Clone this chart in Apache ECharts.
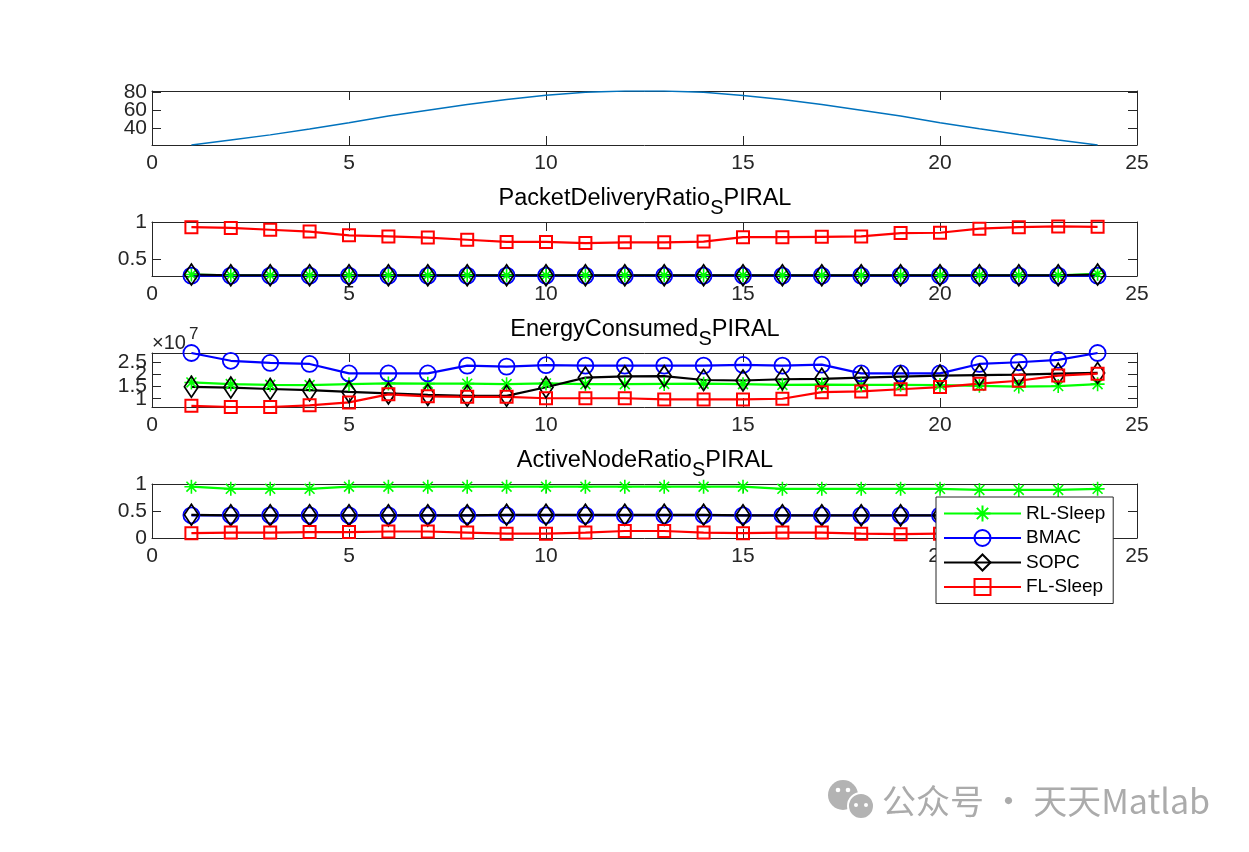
<!DOCTYPE html>
<html>
<head>
<meta charset="utf-8">
<script src="https://cdn.jsdelivr.net/npm/echarts@6/dist/echarts.min.js"></script>
<style>
html,body{margin:0;padding:0;background:#fff;}
#c{width:1249px;height:852px;}
</style>
</head>
<body>
<div id="c"></div>
<script>
// ---------------- data ----------------
var xValues = [1,2,3,4,5,6,7,8,9,10,11,12,13,14,15,16,17,18,19,20,21,22,23,24];
var seriesNames = ['RL-Sleep','BMAC','SOPC','FL-Sleep'];
var xTicks = [0,5,10,15,20,25];

// panel 1
var topCurve = [21.8,27.3,32.9,39.3,46.2,53.5,60.0,66.2,71.6,76.3,79.6,81.0,81.0,79.5,76.1,71.6,66.2,60.0,53.5,46.2,39.6,33.2,27.3,21.8];
var topTicks = [40,60,80];

// panel 2 : PacketDeliveryRatio
var pdrRL   = [0.29,0.28,0.28,0.28,0.28,0.28,0.28,0.28,0.28,0.28,0.28,0.28,0.28,0.28,0.28,0.28,0.28,0.28,0.28,0.28,0.28,0.28,0.28,0.30];
var pdrBMAC = [0.275,0.275,0.275,0.275,0.275,0.275,0.275,0.275,0.275,0.275,0.275,0.275,0.275,0.275,0.275,0.275,0.275,0.275,0.275,0.275,0.275,0.275,0.275,0.275];
var pdrSOPC = [0.29,0.28,0.28,0.28,0.28,0.28,0.28,0.28,0.28,0.28,0.28,0.28,0.28,0.28,0.28,0.28,0.28,0.28,0.28,0.28,0.28,0.28,0.28,0.29];
var pdrFL   = [0.93,0.92,0.895,0.87,0.82,0.805,0.79,0.76,0.73,0.73,0.715,0.725,0.725,0.735,0.795,0.795,0.80,0.805,0.85,0.855,0.91,0.93,0.94,0.935];
var pdrTicks = [0.5,1];

// panel 3 : EnergyConsumed (x 1e7)
var eRL   = [1.67,1.60,1.57,1.56,1.60,1.63,1.62,1.62,1.60,1.63,1.60,1.60,1.61,1.62,1.60,1.57,1.58,1.57,1.57,1.56,1.53,1.50,1.52,1.60];
var eBMAC = [2.88,2.56,2.47,2.43,2.04,2.04,2.04,2.36,2.32,2.38,2.36,2.36,2.36,2.36,2.39,2.36,2.40,2.04,2.04,2.04,2.43,2.50,2.60,2.88];
var eSOPC = [1.49,1.46,1.40,1.35,1.28,1.22,1.16,1.12,1.12,1.47,1.87,1.92,1.93,1.77,1.75,1.80,1.82,1.87,1.91,1.95,1.97,1.99,2.03,2.06];
var eFL   = [0.71,0.66,0.66,0.73,0.85,1.18,1.10,1.08,1.08,1.02,1.02,1.02,0.97,0.97,0.97,1.00,1.27,1.30,1.39,1.48,1.62,1.74,1.95,2.03];
var eTicks = [1,1.5,2,2.5];

// panel 4 : ActiveNodeRatio
var aRL   = [0.95,0.91,0.91,0.91,0.95,0.95,0.95,0.95,0.95,0.95,0.95,0.95,0.95,0.95,0.95,0.91,0.91,0.91,0.91,0.91,0.89,0.89,0.89,0.91];
var aBMAC = [0.42,0.42,0.42,0.42,0.42,0.42,0.42,0.42,0.42,0.42,0.42,0.42,0.42,0.42,0.42,0.42,0.42,0.42,0.42,0.42,0.42,0.42,0.42,0.42];
var aSOPC = [0.43,0.42,0.42,0.42,0.42,0.42,0.42,0.42,0.43,0.43,0.43,0.43,0.43,0.43,0.42,0.42,0.42,0.42,0.42,0.42,0.42,0.42,0.42,0.42];
var aFL   = [0.09,0.10,0.10,0.11,0.11,0.12,0.12,0.10,0.08,0.08,0.10,0.13,0.13,0.10,0.09,0.10,0.10,0.08,0.07,0.08,0.09,0.09,0.09,0.09];
var aTicks = [0,0.5,1];

// ---------------- layout ----------------
var FONT = "'Liberation Sans', Arial, Helvetica, sans-serif";
var AX = '#262626';
var gridTops = [91, 222, 353, 484];
var gridH = 54;
var yRanges = [[21.8,81],[0.27,1],[0.66,2.88],[0,1]];
var yTickSets = [topTicks, pdrTicks, eTicks, aTicks];

function pairs(ys){ return xValues.map(function(x,i){ return [x, ys[i]]; }); }

var grids = [], xAxes = [], yAxes = [];
gridTops.forEach(function(t, i){
  grids.push({left:152, top:t, width:985, height:gridH, show:false});
  var common = {
    type:'value', gridIndex:i, min:0, max:25, interval:5,
    axisLine:{show:true, onZero:false, lineStyle:{color:AX, width:1}},
    axisTick:{show:true, inside:true, length:9, lineStyle:{color:AX, width:1}},
    splitLine:{show:false}
  };
  xAxes.push(Object.assign({}, common, {position:'bottom',
    axisLabel:{color:AX, fontSize:21, fontFamily:FONT, margin:8}}));
  xAxes.push(Object.assign({}, common, {position:'top', axisLabel:{show:false}}));
  var ycommon = {
    type:'value', gridIndex:i, min:yRanges[i][0], max:yRanges[i][1],
    axisLine:{show:true, onZero:false, lineStyle:{color:AX, width:1}},
    axisTick:{show:true, inside:true, length:9, interval:0, customValues:yTickSets[i], lineStyle:{color:AX, width:1}},
    axisLabel:{show:false},
    splitLine:{show:false}
  };
  yAxes.push(Object.assign({}, ycommon, {position:'left'}));
  yAxes.push(Object.assign({}, ycommon, {position:'right'}));
});

var starPath = 'path://M10,0L10,20M0,10L20,10M2.93,2.93L17.07,17.07M2.93,17.07L17.07,2.93';
var styles = {
  'RL-Sleep': {color:'#00ff00', symbol:starPath, size:14, item:{color:'#00ff00', borderColor:'#00ff00', borderWidth:1.6}},
  'BMAC':     {color:'#0000ff', symbol:'circle', size:16, item:{color:'rgba(0,0,0,0)', borderColor:'#0000ff', borderWidth:1.8}},
  'SOPC':     {color:'#000000', symbol:'diamond', size:[14,21], item:{color:'rgba(0,0,0,0)', borderColor:'#000000', borderWidth:1.8}},
  'FL-Sleep': {color:'#ff0000', symbol:'rect', size:12, item:{color:'rgba(0,0,0,0)', borderColor:'#ff0000', borderWidth:2}}
};

function mk(name, ys, g){
  var s = styles[name];
  return {
    type:'line', name:name, xAxisIndex:g*2, yAxisIndex:g*2, data:pairs(ys),
    symbol:s.symbol, symbolSize:s.size, showSymbol:true, showAllSymbol:true,
    clip:false, silent:true,
    lineStyle:{color:s.color, width:2.2},
    itemStyle:s.item
  };
}

var series = [{
  type:'line', name:'curve', xAxisIndex:0, yAxisIndex:0, data:pairs(topCurve),
  showSymbol:false, symbol:'none', silent:true,
  lineStyle:{color:'#0072BD', width:1.5}, itemStyle:{color:'#0072BD'}
}];
var panelData = [
  null,
  [pdrRL, pdrBMAC, pdrSOPC, pdrFL],
  [eRL, eBMAC, eSOPC, eFL],
  [aRL, aBMAC, aSOPC, aFL]
];
for (var g=1; g<4; g++){
  seriesNames.forEach(function(n, k){ series.push(mk(n, panelData[g][k], g)); });
}

function titleText(x, y, main){
  return {
    type:'text', x:x, y:y, z:10,
    style:{
      text:'{a|'+main+'}{s|S}{a|PIRAL}',
      align:'center', verticalAlign:'middle',
      rich:{
        a:{fontSize:23.5, fontFamily:FONT, fill:'#000', lineHeight:25, verticalAlign:'top'},
        s:{fontSize:20, fontFamily:FONT, fill:'#000', lineHeight:20, padding:[12,0,0,0], verticalAlign:'top'}
      }
    }
  };
}

var graphics = [
  titleText(645, 199, 'PacketDeliveryRatio'),
  titleText(645, 330, 'EnergyConsumed'),
  titleText(645, 461, 'ActiveNodeRatio'),
  {type:'text', x:152, y:343, style:{text:'×10', fontSize:20, fontFamily:FONT, fill:AX, verticalAlign:'middle'}},
  {type:'text', x:189, y:334, style:{text:'7', fontSize:17, fontFamily:FONT, fill:AX, verticalAlign:'middle'}},
  // watermark
  {type:'circle', shape:{cx:843, cy:795, r:15}, style:{fill:'#b3b3b3'}},
  {type:'circle', shape:{cx:861, cy:806, r:13}, style:{fill:'#b3b3b3', stroke:'#fff', lineWidth:2}},
  {type:'circle', shape:{cx:838, cy:790, r:2.3}, style:{fill:'#fff'}},
  {type:'circle', shape:{cx:848, cy:790, r:2.3}, style:{fill:'#fff'}},
  {type:'circle', shape:{cx:856, cy:805, r:2}, style:{fill:'#fff'}},
  {type:'circle', shape:{cx:866, cy:805, r:2}, style:{fill:'#fff'}},
  {type:'text', x:882, y:801, style:{text:'公众号 · 天天Matlab', fontSize:34, fontFamily:"'Noto Sans CJK SC', sans-serif", fill:'#ababab', verticalAlign:'middle'}}
];

var chart = echarts.init(document.getElementById('c'), null, {renderer:'canvas'});
chart.setOption({
  animation:false,
  backgroundColor:'#fff',
  grid:grids, xAxis:xAxes, yAxis:yAxes,
  legend:{
    data:seriesNames, orient:'vertical', left:936, top:497,
    backgroundColor:'#fff', borderColor:AX, borderWidth:1,
    padding:[7,8,7,7], itemWidth:77, itemHeight:20, itemGap:5.5,
    textStyle:{fontSize:19, fontFamily:FONT, color:'#000'},
    selectedMode:false, z:20
  },
  series:series,
  graphic:graphics
});

// y tick labels placed through the library's own axis scales (no overlap hiding)
var labelGraphics = [];
yTickSets.forEach(function(ticks, i){
  ticks.forEach(function(v){
    var py = chart.convertToPixel({yAxisIndex:i*2}, v);
    var px = chart.convertToPixel({xAxisIndex:i*2}, 0);
    labelGraphics.push({type:'text', x:px-5, y:py, z:5, silent:true,
      style:{text:String(v), fontSize:21, fontFamily:FONT, fill:AX, align:'right', verticalAlign:'middle'}});
  });
});
chart.setOption({graphic:graphics.concat(labelGraphics)});
</script>
</body>
</html>
